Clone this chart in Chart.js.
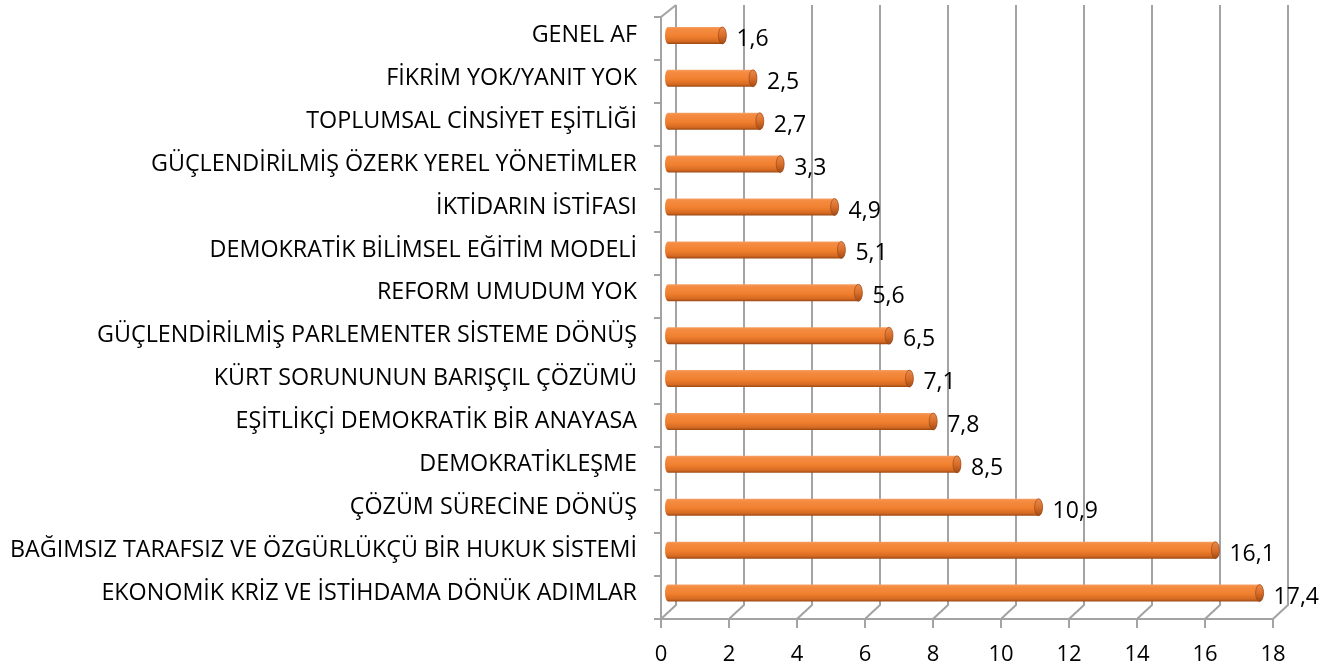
<!DOCTYPE html>
<html>
<head>
<meta charset="utf-8">
<script src="https://cdn.jsdelivr.net/npm/chart.js@4.4.1/dist/chart.umd.min.js"></script>
<style>
  html, body { margin: 0; padding: 0; background: #fff; }
  #wrap { width: 1339px; height: 671px; }
</style>
</head>
<body>
<div id="wrap"><canvas id="chart"></canvas></div>
<script>
// categories, top to bottom as shown
const categories = [
  'GENEL AF',
  'FİKRİM YOK/YANIT YOK',
  'TOPLUMSAL CİNSİYET EŞİTLİĞİ',
  'GÜÇLENDİRİLMİŞ ÖZERK YEREL YÖNETİMLER',
  'İKTİDARIN İSTİFASI',
  'DEMOKRATİK BİLİMSEL EĞİTİM MODELİ',
  'REFORM UMUDUM YOK',
  'GÜÇLENDİRİLMİŞ PARLEMENTER SİSTEME DÖNÜŞ',
  'KÜRT SORUNUNUN BARIŞÇIL ÇÖZÜMÜ',
  'EŞİTLİKÇİ DEMOKRATİK BİR ANAYASA',
  'DEMOKRATİKLEŞME',
  'ÇÖZÜM SÜRECİNE DÖNÜŞ',
  'BAĞIMSIZ TARAFSIZ VE ÖZGÜRLÜKÇÜ BİR HUKUK SİSTEMİ',
  'EKONOMİK KRİZ VE İSTİHDAMA DÖNÜK ADIMLAR'
];
const values = [1.6, 2.5, 2.7, 3.3, 4.9, 5.1, 5.6, 6.5, 7.1, 7.8, 8.5, 10.9, 16.1, 17.4];
const xTicks = [0, 2, 4, 6, 8, 10, 12, 14, 16, 18];

const FONT = '"Open Sans", Lato, sans-serif';
const GRID = '#a3a3a3';

// size the category font so the longest label spans ~627px like the original
const mctx = document.createElement('canvas').getContext('2d');
mctx.font = '100px ' + FONT;
const longest = categories.reduce((a, b) => mctx.measureText(b).width > mctx.measureText(a).width ? b : a);
const catSize = Math.round(100 * 627 / mctx.measureText(longest).width * 10) / 10;

// 3d wall / floor lines (Excel style)
const wallPlugin = {
  id: 'wall',
  beforeDatasetsDraw(chart) {
    const { ctx, chartArea: a, scales: { x } } = chart;
    const frontDx = -7, backDx = 8;
    const frontY = a.bottom + 4.5, backY = a.bottom - 9.5;
    const topBack = 5, topFront = 17;
    ctx.save();
    ctx.strokeStyle = GRID;
    ctx.lineWidth = 2;
    ctx.beginPath();
    // left wall
    const lx = x.getPixelForValue(0) + frontDx;
    ctx.moveTo(lx, frontY);
    ctx.lineTo(lx, topFront);
    ctx.lineTo(x.getPixelForValue(0) + backDx, topBack);
    // category ticks on left wall
    const n = categories.length;
    const step = (frontY - topFront) / n;
    for (let i = 0; i <= n; i++) {
      const ty = Math.round(topFront + i * step);
      ctx.moveTo(lx - 7, ty);
      ctx.lineTo(lx, ty);
    }
    // front floor edge
    ctx.moveTo(lx, frontY);
    ctx.lineTo(x.getPixelForValue(18) + frontDx, frontY);
    // gridlines on back wall + floor diagonals + ticks
    xTicks.forEach(v => {
      const px = x.getPixelForValue(v);
      ctx.moveTo(px + backDx, topBack);
      ctx.lineTo(px + backDx, backY);
      ctx.lineTo(px + frontDx, frontY);
      ctx.lineTo(px + frontDx, frontY + 9);
    });
    ctx.stroke();
    ctx.restore();
  }
};

// cylinders + value labels
const cylPlugin = {
  id: 'cyl',
  afterDatasetsDraw(chart) {
    const { ctx } = chart;
    const meta = chart.getDatasetMeta(0);
    ctx.save();
    meta.data.forEach((el, i) => {
      const { x, y, base, height } = el.getProps(['x', 'y', 'base', 'height'], true);
      const r = height / 2;
      const rx = 4;
      const g = ctx.createLinearGradient(0, y - r, 0, y + r);
      g.addColorStop(0, '#f4a067');
      g.addColorStop(0.12, '#f58c42');
      g.addColorStop(0.55, '#f0802f');
      g.addColorStop(0.85, '#d66a22');
      g.addColorStop(1, '#9a4814');
      ctx.beginPath();
      ctx.moveTo(base, y - r);
      ctx.lineTo(x, y - r);
      ctx.ellipse(x, y, rx, r, 0, -Math.PI / 2, Math.PI / 2);
      ctx.lineTo(base, y + r);
      ctx.ellipse(base, y, rx - 1, r, 0, Math.PI / 2, Math.PI * 1.5);
      ctx.closePath();
      ctx.fillStyle = g;
      ctx.fill();
      // end cap
      const cg = ctx.createLinearGradient(0, y - r, 0, y + r);
      cg.addColorStop(0, '#e98a4d');
      cg.addColorStop(0.5, '#d96e2a');
      cg.addColorStop(1, '#a24b16');
      ctx.beginPath();
      ctx.ellipse(x, y, rx, r, 0, 0, Math.PI * 2);
      ctx.fillStyle = cg;
      ctx.fill();
      ctx.strokeStyle = 'rgba(140,62,16,0.7)';
      ctx.lineWidth = 0.8;
      ctx.stroke();
      // value label
      ctx.fillStyle = '#000';
      ctx.font = '23px ' + FONT;
      ctx.textAlign = 'left';
      ctx.textBaseline = 'middle';
      ctx.fillText(String(values[i]).replace('.', ','), x + 14, y + 4);
    });
    ctx.restore();
  }
};

new Chart(document.getElementById('chart'), {
  type: 'bar',
  data: {
    labels: categories,
    datasets: [{
      data: values,
      backgroundColor: 'rgba(0,0,0,0)',
      borderWidth: 0,
      barThickness: 17
    }]
  },
  options: {
    indexAxis: 'y',
    responsive: true,
    maintainAspectRatio: false,
    animation: false,
    layout: { padding: { top: 12.5, right: 59, bottom: 0, left: 0 } },
    plugins: { legend: { display: false }, tooltip: { enabled: false } },
    scales: {
      x: {
        min: 0, max: 18,
        afterBuildTicks: s => { s.ticks = xTicks.map(v => ({ value: v })); },
        afterFit: s => { s.height = 671 - 614.5; },
        grid: { display: false, drawTicks: true, tickLength: 27 },
        border: { display: false },
        ticks: {
          color: '#000',
          font: { family: FONT, size: 22 },
          padding: 0,
          labelOffset: -7,
          maxRotation: 0,
          autoSkip: false
        }
      },
      y: {
        afterFit: s => { s.width = 668; },
        grid: { display: false, drawTicks: true, tickLength: 31 },
        border: { display: false },
        ticks: {
          color: '#000',
          font: { family: FONT, size: catSize },
          padding: 0,
          autoSkip: false
        }
      }
    }
  },
  plugins: [wallPlugin, cylPlugin]
});
</script>
</body>
</html>
